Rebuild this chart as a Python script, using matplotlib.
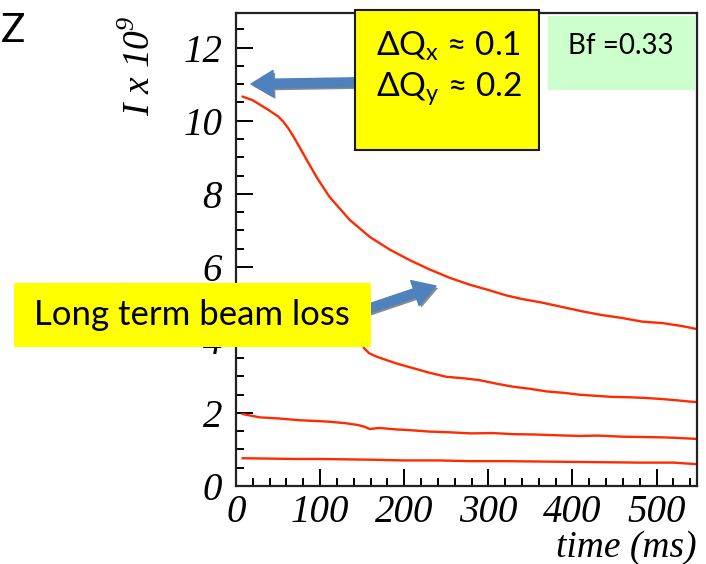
import matplotlib
matplotlib.use('Agg')
import numpy as np
import matplotlib.pyplot as plt
from matplotlib.patches import Rectangle, FancyArrowPatch
from matplotlib.ticker import MultipleLocator
import matplotlib.patheffects as pe

W, H = 706, 564

# beam intensity (x 1e9) vs time (ms)
t1 = [8, 20, 37, 50, 56, 62, 68, 76, 84, 96, 111, 135, 159, 183, 206, 230, 254, 278, 301,
      321, 340, 364, 388, 412, 435, 459, 483, 507, 530, 547]
i1 = [10.66, 10.56, 10.32, 10.12, 9.98, 9.80, 9.58, 9.26, 8.93, 8.45, 7.92, 7.29, 6.82,
      6.47, 6.19, 5.93, 5.70, 5.51, 5.36, 5.22, 5.12, 5.02, 4.90, 4.78, 4.68, 4.60, 4.50,
      4.46, 4.38, 4.30]

t2 = [8, 50, 100, 140, 148, 152, 158, 165, 171, 190, 210, 230, 250, 270, 289, 310, 329,
      350, 369, 390, 408, 427, 447, 467, 487, 507, 527, 540, 547]
i2 = [5.10, 4.90, 4.65, 4.40, 4.05, 3.78, 3.64, 3.56, 3.51, 3.36, 3.23, 3.10, 2.99, 2.95,
      2.90, 2.80, 2.72, 2.66, 2.59, 2.55, 2.50, 2.47, 2.44, 2.43, 2.41, 2.38, 2.34, 2.31, 2.30]

t3 = [8, 28, 50, 76, 95, 111, 130, 145, 153, 159, 170, 190, 206, 230, 254, 280, 305,
      329, 355, 380, 408, 430, 460, 487, 510, 530, 547]
i3 = [1.97, 1.88, 1.85, 1.80, 1.78, 1.76, 1.72, 1.67, 1.62, 1.56, 1.59, 1.55, 1.53, 1.49,
      1.47, 1.44, 1.45, 1.42, 1.41, 1.39, 1.37, 1.38, 1.35, 1.34, 1.33, 1.31, 1.29]

t4 = [8, 40, 70, 100, 130, 160, 200, 240, 280, 320, 360, 400, 440, 480, 520, 540, 547]
i4 = [0.76, 0.75, 0.74, 0.74, 0.73, 0.72, 0.70, 0.70, 0.68, 0.68, 0.67, 0.66, 0.65,
      0.64, 0.64, 0.61, 0.60]

yticks = [0, 2, 4, 6, 8, 10, 12]
xticks = [0, 100, 200, 300, 400, 500]


def fx(px):
    return px / W


def fy(py):
    return 1 - py / H


serif = 'Liberation Serif'
sans = ['Lato', 'DejaVu Sans']
red = '#ff2a00'
blue = '#4f81bd'

fig = plt.figure(figsize=(W / 100, H / 100), dpi=100)
ax = fig.add_axes([fx(236), fy(486), fx(697) - fx(236), fy(13) - fy(486)])

for t, i in [(t1, i1), (t2, i2), (t3, i3), (t4, i4)]:
    ax.plot(t, i, color=red, lw=1.7)

ax.set_xlim(0, 548)
ax.set_ylim(0, 12.95)
ax.set_xticks(xticks)
ax.set_yticks(yticks)
ax.xaxis.set_minor_locator(MultipleLocator(20))
ax.yaxis.set_minor_locator(MultipleLocator(0.5))
ax.tick_params(which='both', direction='in', top=False, right=False, width=1.4,
               colors='black')
ax.tick_params(which='major', length=12)
ax.tick_params(which='minor', length=5.5)
ax.tick_params(axis='y', pad=10)
ax.tick_params(axis='x', pad=6)
for lab in ax.get_xticklabels() + ax.get_yticklabels():
    lab.set_fontfamily(serif)
    lab.set_fontstyle('italic')
    lab.set_fontsize(28)
for s in ax.spines.values():
    s.set_linewidth(1.6)
    s.set_color('#222222')

fig.text(fx(697), fy(548), 'time (ms)', family=serif, style='italic', fontsize=27,
         ha='right', va='center')
fig.text(fx(140), fy(66), r'I x 10$^\mathregular{9}$', family=serif, style='italic',
         fontsize=27, rotation=90, ha='center', va='center')

fig.text(fx(1), fy(31), 'Z', family=sans, fontsize=29, ha='left', va='center')

# arrows (drawn below the boxes)
shadow = [pe.SimplePatchShadow(offset=(1.5, -1.5), shadow_rgbFace='#808080', alpha=0.9),
          pe.Normal()]
a1 = FancyArrowPatch((fx(375), fy(82)), (fx(251), fy(84)), transform=fig.transFigure,
                     arrowstyle='simple,head_width=19,head_length=16,tail_width=6.5',
                     mutation_scale=1, color=blue, shrinkA=0, shrinkB=0, zorder=5)
a1.set_path_effects(shadow)
fig.add_artist(a1)
a2 = FancyArrowPatch((fx(350), fy(315)), (fx(436), fy(286)), transform=fig.transFigure,
                     arrowstyle='simple,head_width=19,head_length=16,tail_width=6.5',
                     mutation_scale=1, color=blue, shrinkA=0, shrinkB=0, zorder=5)
a2.set_path_effects(shadow)
fig.add_artist(a2)

# text boxes
fig.add_artist(Rectangle((fx(355), fy(150)), fx(539) - fx(355), fy(10) - fy(150),
                         transform=fig.transFigure, facecolor='#ffff00',
                         edgecolor='#1a1a1a', lw=1.5, zorder=6))
fig.text(fx(376), fy(46), r'ΔQ$_\mathregular{x}$ ≈ 0.1', family=sans, fontsize=24,
         ha='left', va='center', zorder=7)
fig.text(fx(376), fy(89), r'ΔQ$_\mathregular{y}$ ≈ 0.2', family=sans, fontsize=24,
         ha='left', va='center', zorder=7)

fig.add_artist(Rectangle((fx(548), fy(90)), fx(695) - fx(548), fy(16) - fy(90),
                         transform=fig.transFigure, facecolor='#ccffcc',
                         edgecolor='none', zorder=6))
fig.text(fx(621), fy(46), 'Bf =0.33', family=sans, fontsize=20, ha='center',
         va='center', zorder=7)

fig.add_artist(Rectangle((fx(14), fy(347)), fx(371) - fx(14), fy(283) - fy(347),
                         transform=fig.transFigure, facecolor='#ffff00',
                         edgecolor='none', zorder=6))
fig.text(fx(192), fy(315), 'Long term beam loss', family=sans, fontsize=25,
         ha='center', va='center', zorder=7)

fig.savefig('out.png', dpi=100)
